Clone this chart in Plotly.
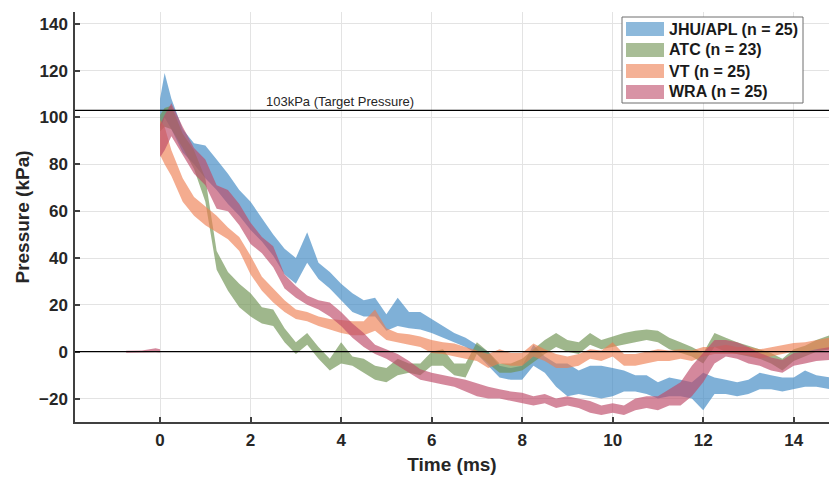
import plotly.graph_objects as go

# ---- data ----
time_ms = [0.0, 0.1, 0.25, 0.5, 0.75, 1.0, 1.25, 1.5, 1.75, 2.0, 2.25, 2.5, 2.75, 3.0, 3.25, 3.5, 3.75,
           4.0, 4.25, 4.5, 4.75, 5.0, 5.25, 5.5, 5.75, 6.0, 6.25, 6.5, 6.75, 7.0, 7.25, 7.5, 7.75,
           8.0, 8.25, 8.5, 8.75, 9.0, 9.25, 9.5, 9.75, 10.0, 10.25, 10.5, 10.75, 11.0, 11.25, 11.5,
           11.75, 12.0, 12.25, 12.5, 12.75, 13.0, 13.25, 13.5, 13.75, 14.0, 14.25, 14.5, 14.8]

jhu_lo = [95, 100, 95, 85, 80, 74, 69, 63, 58, 52, 47, 41, 33, 29, 38, 31, 27,
          22, 17, 15, 15, 9, 11, 10, 9.5, 8, 6, 4, 2, -1, -6, -11, -12,
          -12, -6, -9, -15, -19, -18, -19, -20, -19, -17, -17, -18, -20, -19, -19,
          -20, -25, -18, -18, -19, -18, -16, -16, -17, -16, -15, -15, -16]
jhu_hi = [108, 119, 108, 95, 89, 88, 82, 76, 69, 64, 57, 50, 44, 40, 51, 38, 34,
          29, 25, 22, 23, 16, 23, 17, 17, 14, 11, 8, 6, 3, 0, -6, -7,
          -6, 3, -2, -5, -5, -8, -6, -6, -7, -8, -10, -10, -13, -11, -12,
          -13, -9, -11, -12, -13, -12, -9, -10, -11, -11, -8, -10, -11]

atc_lo = [94, 96, 95, 87, 78, 64, 35, 26, 19, 15, 12, 11, 4, -1, 3, -3, -8,
          -5, -6, -9, -12, -13, -10, -9, -10, -6, -6, -10, -11, -1, -5, -9, -9,
          -8, -4.5, -1, 2, 0, -1, 3, 1, 2, 3, 4, 5, 4, 1, -0.5,
          -2, -5, 2, 0, -1, -2, -3, -5, -8, -4, -2, 0, 1]
atc_hi = [101, 104, 105, 93, 86, 74, 43, 34, 29, 25, 19, 18, 10, 4, 8, 2, -3,
          4, -2, -3, -6, -7, -3, -5, -5, 0, 1, -5, -5, 4, 0, -5, -5,
          -3, 1, 5, 8, 5, 4, 8, 5, 6.5, 8, 9, 9.5, 9, 6, 4,
          2, -0.5, 8, 6, 4, 2.5, 1, -0.5, -3, 1, 2.5, 5, 7]

vt_lo = [84, 80, 75, 64, 58, 54, 51, 48, 43, 33, 26, 21, 17, 14, 13, 11, 9.5,
         8, 7, 7, 9, 5, 4, 3, 2, -0.5, -1, -2, -3, -4, -7, -5, -6,
         -6, -2, -4, -7, -7, -6, -3, -4, -2, -6, -6, -5, -4, -4, -3,
         -4, -2, -1, -1, -1, -1.5, -3, -2, -1, 0, 0, 1, 1]
vt_hi = [99, 96, 86, 74, 66, 62, 58, 53, 49, 41, 32, 27, 22, 18, 17, 15, 14,
         13.5, 13, 13, 18, 10, 8, 7.5, 6.5, 5, 4, 3.5, 2, 0.5, -1, 1, -0.5,
         -0.5, 3.5, 1, -1, -2, -1, 1, 0.5, 4, -1, -1, 0, 1, 0.5, 1,
         0.5, 2, 2, 3, 2, 2, 1, 2, 3, 3.7, 4, 5, 6]

wra_lo = [83, 86, 92, 84, 76, 71, 61, 60, 54, 46, 42, 36, 27, 23, 20, 18, 15,
          11, 6, 2, -1, -3, -6, -9, -12, -13, -14, -15, -17, -19, -20, -20, -21,
          -22, -23, -22, -24, -23, -24, -26, -27, -26, -27, -25, -24, -25, -23, -23,
          -19, -13, -5, -2, -3, -5, -6, -8, -9, -6, -5, -4, -3.5]
wra_hi = [97, 101, 106, 96, 87, 82, 71, 69, 63, 55, 49, 45, 33, 28, 24, 22, 21,
          17, 12, 8, 3, 1, -1, -4, -7.5, -9, -10, -11, -12, -13.5, -15, -16, -17,
          -17.5, -19, -18, -20, -19, -20, -21, -23, -22, -23, -20, -19, -19, -16, -13,
          -6, -0.5, 5, 5, 4, 2, -0.5, -2.5, -3.5, -0.5, 0, 1, 2]

# pre-trigger baseline visible for WRA only
wra_pre_t = [-0.75, -0.4, -0.1, 0.0]
wra_pre_lo = [-0.4, -0.3, -0.2, -0.3]
wra_pre_hi = [0.4, 0.5, 1.5, 1.0]

series_names = ["JHU/APL (n = 25)", "ATC (n = 23)", "VT (n = 25)", "WRA (n = 25)"]
target_pressure = 103
target_label = "103kPa (Target Pressure)"

x_ticks = [0, 2, 4, 6, 8, 10, 12, 14]
y_ticks = [-20, 0, 20, 40, 60, 80, 100, 120, 140]

# ---- styling ----
fills = ["rgba(60,135,195,0.66)", "rgba(110,145,80,0.66)", "rgba(238,125,80,0.64)", "rgba(190,75,105,0.66)"]
swatch = ["rgb(141,185,219)", "rgb(168,189,150)", "rgb(244,177,150)", "rgb(216,147,165)"]
FONT = "Liberation Sans, Arial, Helvetica, sans-serif"
AX = "#404040"

fig = go.Figure()

bands = [
    (time_ms, jhu_lo, jhu_hi),
    (time_ms, atc_lo, atc_hi),
    (time_ms, vt_lo, vt_hi),
    (time_ms, wra_lo, wra_hi),
]
for (t, lo, hi), name, col in zip(bands, series_names, fills):
    fig.add_trace(go.Scatter(
        x=list(t) + list(t)[::-1],
        y=list(hi) + list(lo)[::-1],
        fill="toself", fillcolor=col, mode="lines",
        line=dict(width=0, color=col), name=name, hoverinfo="skip",
    ))
# WRA pre-trigger segment
fig.add_trace(go.Scatter(
    x=wra_pre_t + wra_pre_t[::-1], y=wra_pre_hi + wra_pre_lo[::-1],
    fill="toself", fillcolor=fills[3], mode="lines", line=dict(width=0, color=fills[3]),
    name=series_names[3], showlegend=False, hoverinfo="skip",
))

# reference lines
for yv in (target_pressure, 0):
    fig.add_shape(type="line", xref="paper", x0=0, x1=1, yref="y", y0=yv, y1=yv,
                  line=dict(color="black", width=1.2), layer="above")

fig.add_annotation(x=3.97, y=target_pressure, xref="x", yref="y", text=target_label,
                   showarrow=False, yanchor="bottom", yshift=-1,
                   font=dict(family=FONT, size=13, color="#262626"))

# manual legend (box, swatches, labels) in paper coordinates
L, T, W, H = 75, 12, 754, 410
def px(xp): return (xp - L) / W
def py(yp): return (T + H - yp) / H

fig.add_shape(type="rect", xref="paper", yref="paper", x0=px(622), x1=px(803), y0=py(103), y1=py(17),
              fillcolor="white", line=dict(color="#6e6e6e", width=1), layer="above")
row_centers = [29, 50, 71, 92]
for yc, name, col in zip(row_centers, series_names, swatch):
    fig.add_shape(type="rect", xref="paper", yref="paper", x0=px(626), x1=px(664),
                  y0=py(yc + 7), y1=py(yc - 7), fillcolor=col, line=dict(width=0), layer="above")
    fig.add_annotation(xref="paper", yref="paper", x=px(667), y=py(yc), text=name, showarrow=False,
                       xanchor="left", yanchor="middle",
                       font=dict(family=FONT, size=16, color="#1a1a1a", weight="bold"))

fig.update_layout(
    width=829, height=480,
    margin=dict(l=L, r=0, t=T, b=480 - T - H, autoexpand=False),
    plot_bgcolor="white", paper_bgcolor="white",
    showlegend=False,
    font=dict(family=FONT, color="#262626"),
)
fig.update_xaxes(
    range=[-1.88, 14.78], tickvals=x_ticks, ticks="inside", ticklen=5, tickwidth=1.5, tickcolor=AX,
    showline=True, linecolor=AX, linewidth=1.5, showgrid=True, gridcolor="#e3e3e3", gridwidth=1,
    zeroline=False, automargin=False, ticklabelstandoff=2,
    tickfont=dict(family=FONT, size=17, color="#262626", weight="bold"),
    title=dict(text="Time (ms)", standoff=9, font=dict(family=FONT, size=19, color="#262626", weight="bold")),
)
fig.update_yaxes(
    range=[-30, 145], tickvals=y_ticks, ticks="inside", ticklen=5, tickwidth=1.5, tickcolor=AX,
    showline=True, linecolor=AX, linewidth=1.5, showgrid=True, gridcolor="#e3e3e3", gridwidth=1,
    zeroline=False, automargin=False, ticklabelstandoff=2,
    tickfont=dict(family=FONT, size=17, color="#262626", weight="bold"),
    title=dict(text="Pressure (kPa)", standoff=4, font=dict(family=FONT, size=19, color="#262626", weight="bold")),
)

fig.write_html("out.html", config={"displayModeBar": False},
               post_script="document.body.style.margin='0';document.body.style.overflow='hidden';")
